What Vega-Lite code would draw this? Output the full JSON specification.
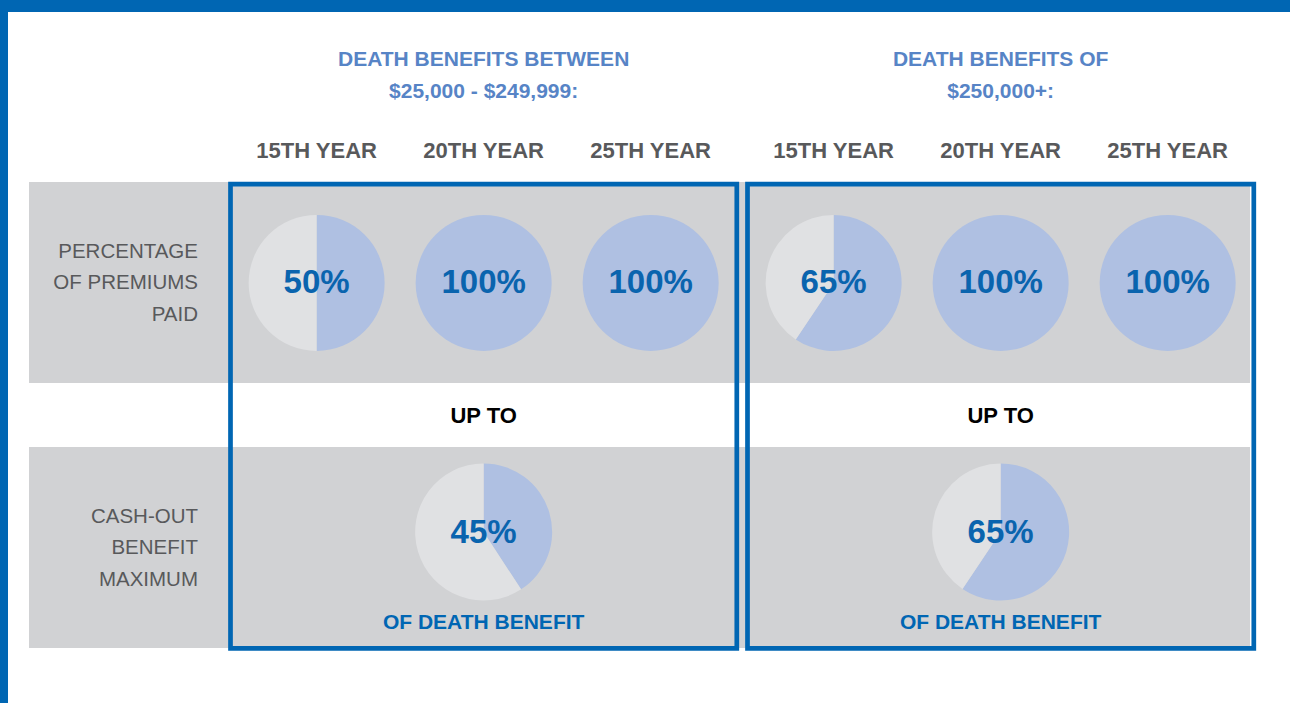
{
  "$schema": "https://vega.github.io/schema/vega-lite/v6.json",
  "width": 1282,
  "height": 691,
  "autosize": "none",
  "padding": {"left": 8, "top": 12, "right": 0, "bottom": 0},
  "background": "#0066B3",
  "config": {
    "view": {"fill": "#ffffff", "stroke": null},
    "text": {"font": "Liberation Sans"}
  },
  "datasets": {
    "metrics": [
      {"metric": "PERCENTAGE OF PREMIUMS PAID", "label": "PERCENTAGE\nOF PREMIUMS\nPAID"},
      {"metric": "CASH-OUT BENEFIT MAXIMUM", "label": "CASH-OUT\nBENEFIT\nMAXIMUM"}
    ],
    "groups": [
      {"group": "$25,000 - $249,999", "title": "DEATH BENEFITS BETWEEN\n$25,000 - $249,999:", "connector": "UP TO", "unit": "OF DEATH BENEFIT"},
      {"group": "$250,000+", "title": "DEATH BENEFITS OF\n$250,000+:", "connector": "UP TO", "unit": "OF DEATH BENEFIT"}
    ],
    "premiums": [
      {"group": "$25,000 - $249,999", "year": "15TH YEAR", "portion": "covered", "share": 50, "label": "50%"},
      {"group": "$25,000 - $249,999", "year": "15TH YEAR", "portion": "remaining", "share": 50, "label": ""},
      {"group": "$25,000 - $249,999", "year": "20TH YEAR", "portion": "covered", "share": 100, "label": "100%"},
      {"group": "$25,000 - $249,999", "year": "20TH YEAR", "portion": "remaining", "share": 0, "label": ""},
      {"group": "$25,000 - $249,999", "year": "25TH YEAR", "portion": "covered", "share": 100, "label": "100%"},
      {"group": "$25,000 - $249,999", "year": "25TH YEAR", "portion": "remaining", "share": 0, "label": ""},
      {"group": "$250,000+", "year": "15TH YEAR", "portion": "covered", "share": 59.4, "label": "65%"},
      {"group": "$250,000+", "year": "15TH YEAR", "portion": "remaining", "share": 40.6, "label": ""},
      {"group": "$250,000+", "year": "20TH YEAR", "portion": "covered", "share": 100, "label": "100%"},
      {"group": "$250,000+", "year": "20TH YEAR", "portion": "remaining", "share": 0, "label": ""},
      {"group": "$250,000+", "year": "25TH YEAR", "portion": "covered", "share": 100, "label": "100%"},
      {"group": "$250,000+", "year": "25TH YEAR", "portion": "remaining", "share": 0, "label": ""}
    ],
    "cashout": [
      {"group": "$25,000 - $249,999", "portion": "covered", "share": 40.8, "label": "45%"},
      {"group": "$25,000 - $249,999", "portion": "remaining", "share": 59.2, "label": ""},
      {"group": "$250,000+", "portion": "covered", "share": 59.4, "label": "65%"},
      {"group": "$250,000+", "portion": "remaining", "share": 40.6, "label": ""}
    ]
  },
  "layer": [
    {
      "layer": [
        {
          "data": {"name": "metrics"},
          "mark": {"type": "rect", "color": "#D1D2D4"},
          "encoding": {
            "x": {"datum": "TABLE", "type": "nominal", "axis": null,
                  "scale": {"type": "band", "domain": ["TABLE"], "range": [21, 1242], "paddingInner": 0, "paddingOuter": 0}},
            "y": {"field": "metric", "type": "nominal", "axis": null,
                  "scale": {"type": "band", "domain": ["PERCENTAGE OF PREMIUMS PAID", "CASH-OUT BENEFIT MAXIMUM"], "range": [170, 636], "paddingInner": 0.24151, "paddingOuter": 0}}
          }
        },
        {
          "data": {"name": "metrics"},
          "mark": {"type": "text", "align": "right", "baseline": "middle", "fontSize": 20.5, "lineBreak": "\n", "lineHeight": 31.5, "color": "#58595B"},
          "encoding": {
            "x": {"datum": "TABLE", "type": "nominal", "bandPosition": 0.1384, "axis": null},
            "y": {"field": "metric", "type": "nominal", "bandPosition": 0.348, "axis": null},
            "text": {"field": "label"}
          }
        }
      ]
    },
    {
      "layer": [
        {
          "data": {"name": "groups"},
          "mark": {"type": "rect", "filled": false, "stroke": "#0066B3", "strokeWidth": 4.7},
          "encoding": {
            "x": {"field": "group", "type": "nominal", "axis": null,
                  "scale": {"type": "band", "domain": ["$25,000 - $249,999", "$250,000+"], "range": [222.5, 1245.8], "paddingInner": 0.0207, "paddingOuter": 0}},
            "y": {"datum": "PERCENTAGE OF PREMIUMS PAID", "type": "nominal", "bandPosition": 0.011, "axis": null},
            "y2": {"datum": "CASH-OUT BENEFIT MAXIMUM", "bandPosition": 1.002}
          }
        },
        {
          "data": {"name": "premiums"},
          "transform": [
            {"stack": "share", "groupby": ["group", "year"], "sort": [{"field": "portion", "order": "ascending"}], "as": ["start", "end"]}
          ],
          "mark": {"type": "arc", "outerRadius": 68},
          "encoding": {
            "x": {"field": "group", "type": "nominal", "axis": null},
            "xOffset": {"field": "year", "type": "nominal",
                        "scale": {"type": "band", "domain": ["15TH YEAR", "20TH YEAR", "25TH YEAR"], "paddingOuter": 0.0157, "paddingInner": 0}},
            "y": {"datum": "PERCENTAGE OF PREMIUMS PAID", "type": "nominal", "bandPosition": 0.502, "axis": null},
            "theta": {"field": "start", "type": "quantitative", "scale": {"domain": [0, 100]}},
            "theta2": {"field": "end"},
            "color": {"field": "portion", "type": "nominal", "legend": null,
                      "scale": {"domain": ["covered", "remaining"], "range": ["#AFC0E2", "#E0E1E3"]}}
          }
        },
        {
          "data": {"name": "cashout"},
          "transform": [
            {"stack": "share", "groupby": ["group"], "sort": [{"field": "portion", "order": "ascending"}], "as": ["start", "end"]}
          ],
          "mark": {"type": "arc", "outerRadius": 68.5},
          "encoding": {
            "x": {"field": "group", "type": "nominal", "axis": null},
            "y": {"datum": "CASH-OUT BENEFIT MAXIMUM", "type": "nominal", "bandPosition": 0.4229, "axis": null},
            "theta": {"field": "start", "type": "quantitative", "scale": {"domain": [0, 100]}},
            "theta2": {"field": "end"},
            "color": {"field": "portion", "type": "nominal", "legend": null}
          }
        },
        {
          "data": {"name": "premiums"},
          "transform": [{"filter": "datum.portion == 'covered'"}],
          "mark": {"type": "text", "align": "center", "baseline": "middle", "fontSize": 33, "fontWeight": "bold", "color": "#0A64AE"},
          "encoding": {
            "x": {"field": "group", "type": "nominal", "axis": null},
            "xOffset": {"field": "year", "type": "nominal"},
            "y": {"datum": "PERCENTAGE OF PREMIUMS PAID", "type": "nominal", "bandPosition": 0.502, "axis": null},
            "text": {"field": "label"}
          }
        },
        {
          "data": {"name": "premiums"},
          "transform": [{"filter": "datum.portion == 'covered'"}],
          "mark": {"type": "text", "align": "center", "baseline": "middle", "fontSize": 22, "fontWeight": "bold", "color": "#58595B"},
          "encoding": {
            "x": {"field": "group", "type": "nominal", "axis": null},
            "xOffset": {"field": "year", "type": "nominal"},
            "y": {"datum": "PERCENTAGE OF PREMIUMS PAID", "type": "nominal", "bandPosition": -0.1542, "axis": null},
            "text": {"field": "year"}
          }
        },
        {
          "data": {"name": "cashout"},
          "transform": [{"filter": "datum.portion == 'covered'"}],
          "mark": {"type": "text", "align": "center", "baseline": "middle", "fontSize": 33, "fontWeight": "bold", "color": "#0A64AE"},
          "encoding": {
            "x": {"field": "group", "type": "nominal", "axis": null},
            "y": {"datum": "CASH-OUT BENEFIT MAXIMUM", "type": "nominal", "bandPosition": 0.428, "axis": null},
            "text": {"field": "label"}
          }
        },
        {
          "data": {"name": "groups"},
          "mark": {"type": "text", "align": "center", "baseline": "middle", "fontSize": 21, "fontWeight": "bold", "color": "#5784C6", "lineBreak": "\n", "lineHeight": 32},
          "encoding": {
            "x": {"field": "group", "type": "nominal", "axis": null},
            "y": {"datum": "PERCENTAGE OF PREMIUMS PAID", "type": "nominal", "bandPosition": -0.607, "axis": null},
            "text": {"field": "title"}
          }
        },
        {
          "data": {"name": "groups"},
          "mark": {"type": "text", "align": "center", "baseline": "middle", "fontSize": 22, "fontWeight": "bold", "color": "#000000"},
          "encoding": {
            "x": {"field": "group", "type": "nominal", "axis": null},
            "y": {"datum": "CASH-OUT BENEFIT MAXIMUM", "type": "nominal", "bandPosition": -0.154, "axis": null},
            "text": {"field": "connector"}
          }
        },
        {
          "data": {"name": "groups"},
          "mark": {"type": "text", "align": "center", "baseline": "middle", "fontSize": 21, "fontWeight": "bold", "color": "#0066B3"},
          "encoding": {
            "x": {"field": "group", "type": "nominal", "axis": null},
            "y": {"datum": "CASH-OUT BENEFIT MAXIMUM", "type": "nominal", "bandPosition": 0.874, "axis": null},
            "text": {"field": "unit"}
          }
        }
      ]
    }
  ],
  "resolve": {"scale": {"x": "independent", "xOffset": "independent"}}
}
